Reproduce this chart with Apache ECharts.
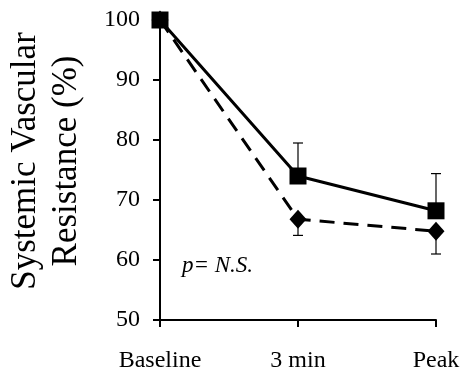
<!DOCTYPE html>
<html>
<head>
<meta charset="utf-8">
<script src="https://cdn.jsdelivr.net/npm/echarts@6/dist/echarts.min.js"></script>
<style>
  html, body { margin: 0; padding: 0; background: #fff; }
  #chart { width: 462px; height: 373px; }
</style>
</head>
<body>
<div id="chart"></div>
<script>
// categories and values
var categories = ['Baseline', '3 min', 'Peak'];
var solidValues = [100, 74, 68.2];
var solidUpper = [null, 79.5, 74.4];     // top of the error bar
var dashedValues = [100, 66.8, 64.8];
var dashedLower = [null, 64.1, 61];      // bottom of the error bar
var yTicks = [50, 60, 70, 80, 90, 100];

var FONT = '"Liberation Serif", "DejaVu Serif", serif';

// error bars: [categoryIndex, from, to]
function barData(values, ends) {
    var out = [];
    for (var i = 0; i < values.length; i++) {
        if (ends[i] != null) out.push([i, values[i], ends[i]]);
    }
    return out;
}

function renderErrorBar(params, api) {
    var p0 = api.coord([api.value(0), api.value(1)]);
    var p1 = api.coord([api.value(0), api.value(2)]);
    var half = 5;
    var style = { stroke: '#000', lineWidth: 1.2 };
    return {
        type: 'group',
        children: [
            { type: 'line', shape: { x1: p0[0], y1: p0[1], x2: p1[0], y2: p1[1] }, style: style },
            { type: 'line', shape: { x1: p1[0] - half, y1: p1[1], x2: p1[0] + half, y2: p1[1] }, style: style }
        ]
    };
}

var chart = echarts.init(document.getElementById('chart'));
chart.setOption({
    animation: false,
    backgroundColor: '#fff',
    grid: { left: 160, right: 26, top: 20, bottom: 53, containLabel: false, outerBoundsMode: 'none' },
    xAxis: {
        type: 'category',
        data: categories,
        boundaryGap: false,
        axisLine: { lineStyle: { color: '#000', width: 2 } },
        axisTick: { alignWithLabel: true, length: 7, lineStyle: { color: '#000', width: 2 } },
        axisLabel: { color: '#000', fontFamily: FONT, fontSize: 24, margin: 29 },
        splitLine: { show: false }
    },
    yAxis: {
        type: 'value',
        min: yTicks[0],
        max: yTicks[yTicks.length - 1],
        interval: 10,
        name: 'Systemic Vascular\nResistance (%)',
        nameLocation: 'middle',
        nameGap: 73,
        nameTextStyle: { color: '#000', fontFamily: FONT, fontSize: 35, lineHeight: 41, padding: [0, 0, 0, 18] },
        axisLine: { show: true, lineStyle: { color: '#000', width: 2 } },
        axisTick: { show: true, length: 7, lineStyle: { color: '#000', width: 2 } },
        axisLabel: { color: '#000', fontFamily: FONT, fontSize: 24, margin: 20 },
        splitLine: { show: false }
    },
    graphic: [{
        type: 'text',
        left: 182,
        top: 254,
        style: { text: 'p= N.S.', fill: '#000', font: 'italic 23px ' + FONT }
    }],
    series: [
        {
            name: 'dashed',
            type: 'line',
            data: dashedValues,
            symbol: 'diamond',
            symbolSize: [17, 19],
            lineStyle: { color: '#000', width: 3, type: [15, 9] },
            itemStyle: { color: '#000' },
            z: 2
        },
        {
            name: 'solid',
            type: 'line',
            data: solidValues,
            symbol: 'rect',
            symbolSize: 17,
            lineStyle: { color: '#000', width: 3 },
            itemStyle: { color: '#000' },
            z: 3
        },
        {
            type: 'custom',
            renderItem: renderErrorBar,
            data: barData(solidValues, solidUpper),
            encode: { x: 0, y: [1, 2] },
            z: 1
        },
        {
            type: 'custom',
            renderItem: renderErrorBar,
            data: barData(dashedValues, dashedLower),
            encode: { x: 0, y: [1, 2] },
            z: 1
        }
    ]
});
</script>
</body>
</html>
